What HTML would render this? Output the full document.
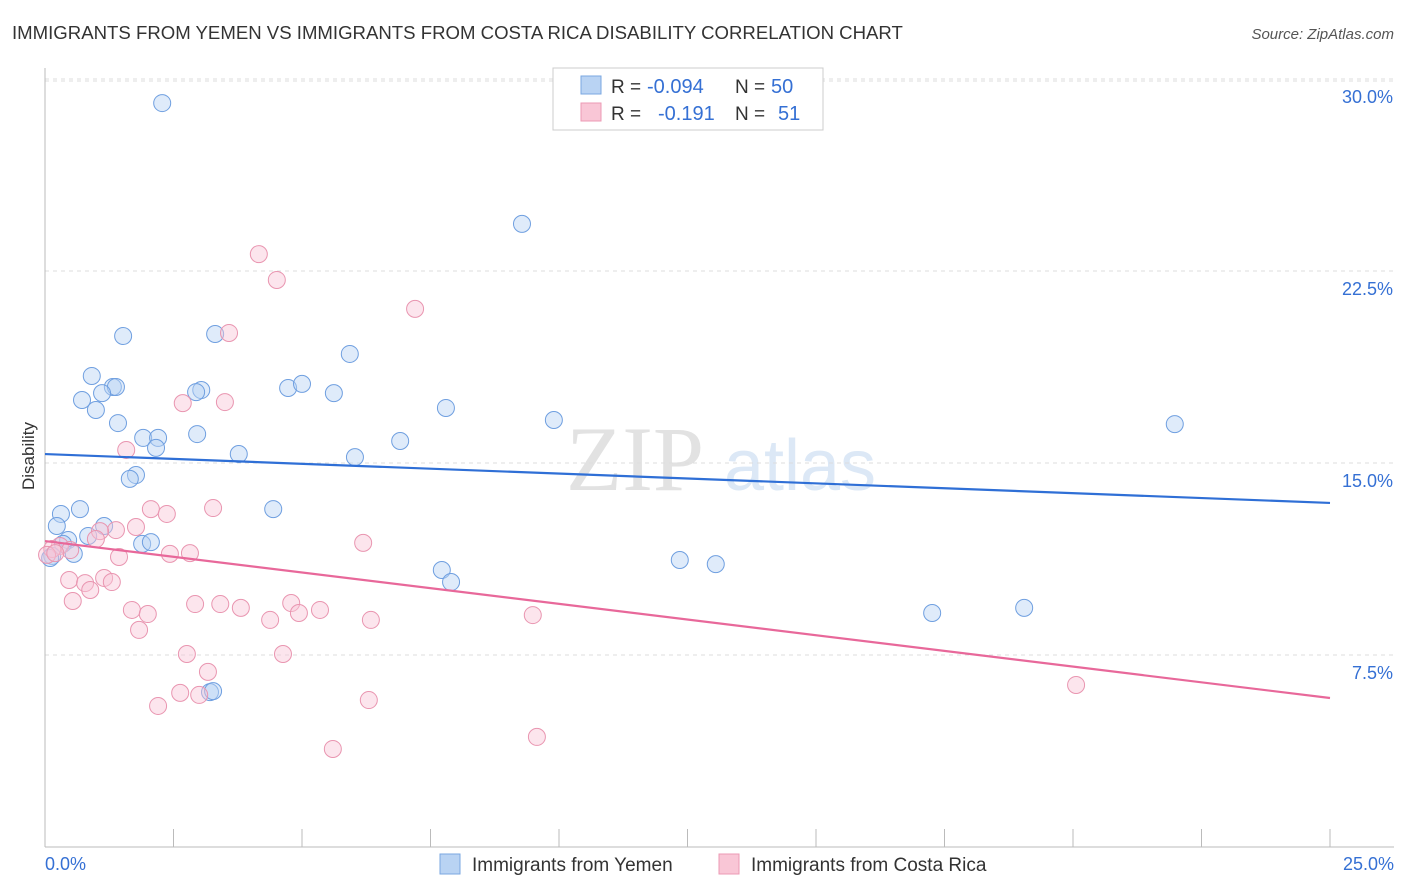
<!DOCTYPE html>
<html><head><meta charset="utf-8"><style>
body{margin:0;background:#fff;font-family:"Liberation Sans",sans-serif;}
svg{display:block}
</style></head><body>
<svg id="chart" width="1406" height="892">
<text x="12" y="39" font-size="18.6" fill="#333">IMMIGRANTS FROM YEMEN VS IMMIGRANTS FROM COSTA RICA DISABILITY CORRELATION CHART</text>
<text x="1394" y="39" font-size="15" fill="#555" font-style="italic" text-anchor="end">Source: ZipAtlas.com</text>
<text x="34" y="456" font-size="17" fill="#333" transform="rotate(-90 34 456)" text-anchor="middle">Disability</text>
<g><text x="635" y="490" font-size="92" fill="#e2e2e2" font-family="Liberation Serif" text-anchor="middle">ZIP</text><text x="800" y="490" font-size="72" fill="#dce8f6" text-anchor="middle">atlas</text></g>
<g id="grid"></g><g id="axes"></g><g id="marks"></g><g id="trends"></g>
<g>
<rect x="553" y="68" width="270" height="62" fill="#fff" stroke="#ccc"/>
<rect x="581" y="76" width="20" height="18" fill="#b9d3f3" stroke="#7aa7e0"/>
<rect x="581" y="103" width="20" height="18" fill="#f9c6d6" stroke="#ec9ab4"/>
<text x="611" y="93" font-size="19" fill="#333">R =</text>
<text x="647" y="93" font-size="20" fill="#3570d4">-0.094</text>
<text x="735" y="93" font-size="19" fill="#333">N =</text>
<text x="771" y="93" font-size="20" fill="#3570d4">50</text>
<text x="611" y="120" font-size="19" fill="#333">R =</text>
<text x="658" y="120" font-size="20" fill="#3570d4">-0.191</text>
<text x="735" y="120" font-size="19" fill="#333">N =</text>
<text x="778" y="120" font-size="20" fill="#3570d4">51</text>
</g>
<g>
<rect x="440" y="854" width="20" height="20" fill="#b9d3f3" stroke="#7aa7e0"/>
<text x="472" y="871" font-size="19" fill="#333">Immigrants from Yemen</text>
<rect x="719" y="854" width="20" height="20" fill="#f9c6d6" stroke="#ec9ab4"/>
<text x="751" y="871" font-size="19" fill="#333">Immigrants from Costa Rica</text>
</g>
</svg>
<script>
const yTicks=[7.5,15,22.5,30];
const yTickLabels=["7.5%","15.0%","22.5%","30.0%"];
const xTicks=[0,2.5,5,7.5,10,12.5,15,17.5,20,22.5,25];
const yemenX=[2.28,9.28,1.52,3.31,5.93,0.91,1.32,1.38,1.11,0.72,0.99,3.04,2.94,4.73,5.0,5.62,7.8,9.9,1.42,1.91,2.2,2.16,2.96,6.91,3.77,6.03,1.77,1.65,4.44,0.68,0.31,0.23,1.15,0.84,0.45,0.35,1.89,2.06,0.56,0.14,0.1,7.72,7.9,12.35,13.05,17.26,19.05,21.98,3.21,3.27];
const yemenY=[29.06,24.34,19.96,20.04,19.26,18.4,17.97,17.97,17.73,17.46,17.07,17.85,17.77,17.93,18.09,17.73,17.15,16.68,16.56,15.98,15.98,15.59,16.13,15.86,15.35,15.23,14.53,14.38,13.2,13.2,13.01,12.54,12.54,12.15,11.99,11.84,11.84,11.91,11.45,11.37,11.29,10.82,10.35,11.21,11.05,9.14,9.34,16.52,6.05,6.09];
const costaX=[4.16,4.51,7.2,3.58,2.68,3.5,1.58,2.06,3.27,2.37,1.77,1.38,1.07,6.19,0.99,0.29,0.14,0.04,0.49,1.44,2.43,2.82,0.47,0.78,1.15,1.3,0.88,0.54,1.69,2.0,2.92,3.41,3.81,4.79,5.35,4.38,4.94,6.34,9.49,1.83,2.76,4.63,3.17,2.63,3.0,2.2,6.3,9.57,5.6,20.06,0.2];
const costaY=[23.16,22.15,21.02,20.08,17.34,17.38,15.51,13.2,13.24,13.01,12.5,12.38,12.34,11.88,12.03,11.76,11.64,11.41,11.6,11.33,11.45,11.48,10.43,10.31,10.51,10.35,10.04,9.61,9.26,9.1,9.49,9.49,9.34,9.53,9.26,8.87,9.14,8.87,9.06,8.48,7.54,7.54,6.84,6.02,5.94,5.51,5.74,4.3,3.83,6.33,11.48];
const trendYemen=[15.35,13.44];
const trendCosta=[11.95,5.82];
const NS="http://www.w3.org/2000/svg";
const X=v=>45+v/25*1285, Y=v=>847-v*25.6;
function mk(t,a,p){const e=document.createElementNS(NS,t);for(const k in a)e.setAttribute(k,a[k]);p.appendChild(e);return e;}
const grid=document.getElementById('grid'),axes=document.getElementById('axes'),marks=document.getElementById('marks'),trends=document.getElementById('trends');
yTicks.forEach((v,i)=>{
 const l=mk('line',{x1:45,x2:1394,y1:Y(v),y2:Y(v),stroke:'#ddd','stroke-dasharray':'4,4'},grid);
 
 
 const t=mk('text',{x:1393,y:Y(v)+24,'font-size':18,fill:'#3570d4','text-anchor':'end'},axes);t.textContent=yTickLabels[i];
 
 
});
const topLine=mk('line',{x1:45,x2:1394,y1:Y(30)+2,y2:Y(30)+2,stroke:'#ddd','stroke-dasharray':'4,4'},grid);


const ya=mk('line',{x1:45,x2:45,y1:68,y2:847,stroke:'#bbb'},axes);


const xa=mk('line',{x1:45,x2:1394,y1:847,y2:847,stroke:'#bbb'},axes);


xTicks.forEach(v=>{const l=mk('line',{x1:X(v),x2:X(v),y1:829,y2:847,stroke:'#bbb'},axes);
 
 });
const x0=mk('text',{x:45,y:870,'font-size':18,fill:'#3570d4'},axes);x0.textContent='0.0%';


const x1=mk('text',{x:1394,y:870,'font-size':18,fill:'#3570d4','text-anchor':'end'},axes);x1.textContent='25.0%';


function dots(xs,ys,fill,stroke,name){xs.forEach((x,i)=>{const c=mk('circle',{cx:X(x),cy:Y(ys[i]),r:8.5,fill:fill,'fill-opacity':0.45,stroke:stroke,'stroke-width':1},marks);
 
 });}
dots(yemenX,yemenY,'#b9d3f3','#6f9fe0','yemen-point');
dots(costaX,costaY,'#f9c6d6','#e995b0','costa-rica-point');
const t1=mk('line',{x1:X(0),y1:Y(trendYemen[0]),x2:X(25),y2:Y(trendYemen[1]),stroke:'#2f6fd6','stroke-width':2.2},trends);


const t2=mk('line',{x1:X(0),y1:Y(trendCosta[0]),x2:X(25),y2:Y(trendCosta[1]),stroke:'#e8689a','stroke-width':2.2},trends);


</script>
</body></html>
